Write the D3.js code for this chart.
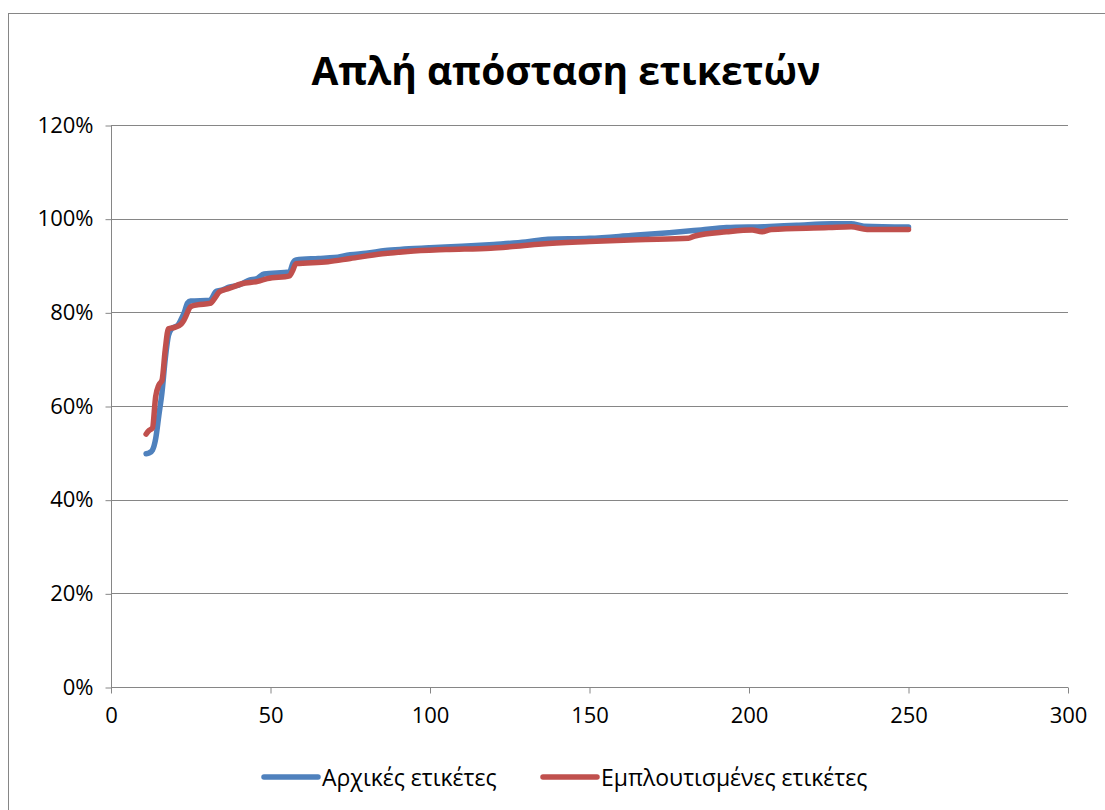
<!DOCTYPE html>
<html>
<head>
<meta charset="utf-8">
<script src="https://cdn.jsdelivr.net/npm/d3@7"></script>
<style>
  html, body { margin: 0; padding: 0; background: #fff; }
  svg { display: block; font-family: "Open Sans", "Noto Sans", sans-serif; }
</style>
</head>
<body>
<svg id="chart"></svg>
<script>
const title = 'Απλή απόσταση ετικετών';
const seriesNames = ['Αρχικές ετικέτες', 'Εμπλουτισμένες ετικέτες'];
const seriesColors = ['#4F81BD', '#C0504D'];

const xTicks = [0, 50, 100, 150, 200, 250, 300];
const yTicks = [0, 0.2, 0.4, 0.6, 0.8, 1.0, 1.2];

// Αρχικές ετικέτες
const blueX = [11, 12, 13, 14, 15, 16, 17, 18, 19, 21, 22, 23, 24, 25, 31, 33, 35, 37, 40, 43, 46, 48, 56, 57, 58, 65, 70, 75, 80, 86, 92, 100, 110, 120, 130, 137, 150, 163, 175, 185, 193, 205, 215, 226, 232, 236, 250];
const blueY = [0.498, 0.500, 0.506, 0.53, 0.58, 0.63, 0.70, 0.75, 0.765, 0.773, 0.785, 0.80, 0.82, 0.824, 0.826, 0.845, 0.848, 0.854, 0.858, 0.868, 0.873, 0.882, 0.886, 0.905, 0.912, 0.915, 0.917, 0.923, 0.926, 0.932, 0.935, 0.938, 0.941, 0.945, 0.950, 0.956, 0.958, 0.964, 0.970, 0.976, 0.981, 0.983, 0.986, 0.989, 0.989, 0.984, 0.982];

// Εμπλουτισμένες ετικέτες
const redX = [11, 12, 13, 14, 15, 16, 17, 18, 20, 22, 23, 25, 27, 31, 33, 34, 37, 41, 46, 49, 56, 57, 58, 68, 75, 85, 93, 105, 119, 125, 135, 150, 165, 181, 183, 193, 201, 204, 207, 225, 232, 237, 250];
const redY = [0.540, 0.548, 0.553, 0.62, 0.645, 0.655, 0.72, 0.765, 0.768, 0.775, 0.785, 0.812, 0.816, 0.819, 0.835, 0.844, 0.851, 0.861, 0.866, 0.872, 0.878, 0.89, 0.904, 0.908, 0.915, 0.925, 0.930, 0.934, 0.937, 0.940, 0.946, 0.951, 0.955, 0.958, 0.963, 0.972, 0.976, 0.972, 0.977, 0.981, 0.983, 0.977, 0.977];

const width = 1105, height = 810;
const margin = {top: 125, right: 37, bottom: 123, left: 111};

const svg = d3.select('#chart').attr('width', width).attr('height', height);

// chart frame
svg.append('rect')
  .attr('x', 8.5).attr('y', 13.5)
  .attr('width', width + 20).attr('height', height + 20)
  .attr('fill', '#fff').attr('stroke', '#868686').attr('stroke-width', 1);

const x = d3.scaleLinear().domain([0, 300]).range([margin.left, width - margin.right]);
const y = d3.scaleLinear().domain([0, 1.2]).range([height - margin.bottom, margin.top]);

// gridlines
svg.append('g')
  .selectAll('line')
  .data(yTicks.slice(1))
  .join('line')
  .attr('x1', x(0)).attr('x2', x(300))
  .attr('y1', d => Math.round(y(d)) + 0.5).attr('y2', d => Math.round(y(d)) + 0.5)
  .attr('stroke', '#868686').attr('stroke-width', 1);

// y axis
const yAxis = svg.append('g')
  .attr('transform', `translate(${Math.round(x(0)) + 0.5},0)`)
  .call(d3.axisLeft(y).tickValues(yTicks).tickFormat(d3.format('.0%')).tickSize(6).tickPadding(12))
  .call(g => g.select('.domain').attr('stroke', '#868686').attr('d', `M0,${y(1.2)}V${y(0)}`));
yAxis.selectAll('.tick line').attr('stroke', '#868686').attr('transform', 'translate(0,0.5)');
yAxis.selectAll('.tick text').attr('font-size', 22).attr('fill', '#000')
  .attr('font-family', '"Open Sans", sans-serif');

// x axis
const xAxis = svg.append('g')
  .attr('transform', `translate(0,${Math.round(y(0)) + 0.5})`)
  .call(d3.axisBottom(x).tickValues(xTicks).tickFormat(d3.format('d')).tickSize(6).tickPadding(14))
  .call(g => g.select('.domain').attr('stroke', '#868686').attr('d', `M${x(0)},0H${x(300)}`));
xAxis.selectAll('.tick line').attr('stroke', '#868686');
xAxis.selectAll('.tick text').attr('font-size', 22).attr('fill', '#000')
  .attr('font-family', '"Open Sans", sans-serif');

// lines
const series = [
  {name: seriesNames[0], color: seriesColors[0], pts: blueX.map((v, i) => [v, blueY[i]])},
  {name: seriesNames[1], color: seriesColors[1], pts: redX.map((v, i) => [v, redY[i]])}
];

const line = d3.line().x(d => x(d[0])).y(d => y(d[1])).curve(d3.curveMonotoneX);

svg.append('g')
  .selectAll('path')
  .data(series)
  .join('path')
  .attr('d', d => line(d.pts))
  .attr('fill', 'none')
  .attr('stroke', d => d.color)
  .attr('stroke-width', 5.5)
  .attr('stroke-linecap', 'round')
  .attr('stroke-linejoin', 'round');

// title
svg.append('text')
  .attr('x', 566).attr('y', 85)
  .attr('text-anchor', 'middle')
  .attr('font-size', 39).attr('font-weight', 'bold')
  .attr('fill', '#000')
  .text(title);

// legend
const legendPos = [264, 543];
const legend = svg.append('g')
  .selectAll('g')
  .data(series)
  .join('g')
  .attr('transform', (d, i) => `translate(${legendPos[i]},777)`);
legend.append('line')
  .attr('x1', 0).attr('x2', 54)
  .attr('stroke', d => d.color).attr('stroke-width', 5.5).attr('stroke-linecap', 'round');
legend.append('text')
  .attr('x', 58).attr('y', 9)
  .attr('font-size', 23).attr('fill', '#000')
  .text(d => d.name);
</script>
</body>
</html>
